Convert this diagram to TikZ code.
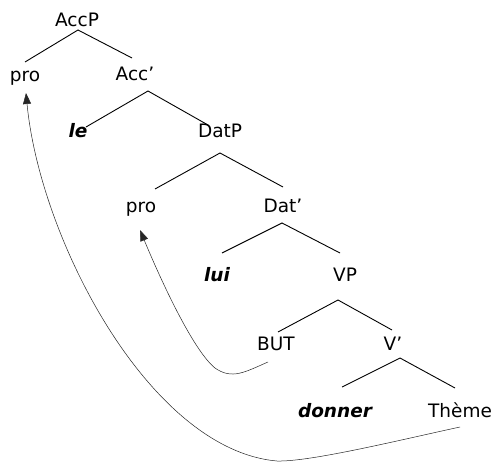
\documentclass[tikz,border=0pt]{standalone}
\usepackage{fontspec}
\setmainfont{DejaVu Sans}
\usetikzlibrary{arrows.meta}
\begin{document}
\begin{tikzpicture}[x=1pt,y=-1pt,
  lbl/.style={inner sep=0pt, anchor=base, font=\fontsize{18.5}{20}\selectfont},
  bi/.style={lbl, font=\fontsize{18.5}{20}\selectfont\bfseries\itshape},
  branch/.style={line width=0.9pt},
  mv/.style={line width=0.5pt, draw=black!85, -{Triangle[length=11pt,width=8pt]}}]
\useasboundingbox (0,0) rectangle (495,462);
% labels
\node[lbl] (AccP) at (77,26.7) {AccP};
\node[lbl] (proA) at (25,81.5) {pro};
\node[lbl] (Acc) at (135,81) {Acc’};
\node[bi] (le) at (78,138) {le};
\node[lbl] (DatP) at (220,138) {DatP};
\node[lbl] (proB) at (141,213) {pro};
\node[lbl] (Dat) at (283,213) {Dat’};
\node[bi] (lui) at (217,281) {lui};
\node[lbl] (VP) at (345,281) {VP};
\node[lbl] (BUT) at (276,350) {BUT};
\node[lbl] (V) at (393,350) {V’};
\node[bi] (donner) at (335,417) {donner};
\node[lbl] (Theme) at (460,417) {Thème};
% branches
\draw[branch] ([shift={(0,-19.5)}]proA.base) -- ([shift={(1,3.3)}]AccP.base) -- ([shift={(-3,-23)}]Acc.base);
\draw[branch] ([shift={(8,-11)}]le.base) -- ([shift={(13,10)}]Acc.base) -- ([shift={(-12,-13)}]DatP.base);
\draw[branch] ([shift={(14,-24)}]proB.base) -- ([shift={(0,15)}]DatP.base) -- ([shift={(0,-26)}]Dat.base);
\draw[branch] ([shift={(5,-28)}]lui.base) -- ([shift={(-1,10)}]Dat.base) -- ([shift={(-5,-28)}]VP.base);
\draw[branch] ([shift={(2,-18)}]BUT.base) -- ([shift={(-7,19)}]VP.base) -- ([shift={(-1,-20)}]V.base);
\draw[branch] ([shift={(7,-30)}]donner.base) -- ([shift={(7,8)}]V.base) -- ([shift={(-5,-29)}]Theme.base);
% movement arrows
\coordinate (s1) at ([shift={(-8,12)}]BUT.base);
\coordinate (t1) at ([shift={(-1,17)}]proB.base);
\coordinate (s2) at ([shift={(0,10)}]Theme.base);
\coordinate (t2) at ([shift={(1,11.5)}]proA.base);
\draw[mv] (s1) .. controls (245,372) and (232,380) .. (215,368)
  .. controls (195,352) and (165,290) .. (t1);
\draw[mv] (s2) .. controls (400,440) and (310,462) .. (277,461)
  .. controls (150,450) and (40,240) .. (t2);
\end{tikzpicture}
\end{document}
